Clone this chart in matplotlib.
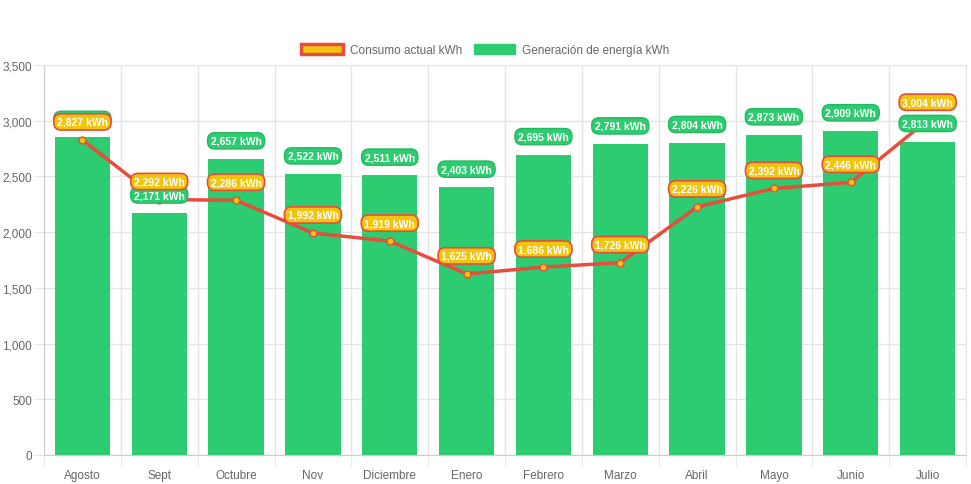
import matplotlib
matplotlib.use("Agg")
import matplotlib.pyplot as plt
from matplotlib.patches import Patch
import numpy as np

plt.rcParams['font.family'] = ['Liberation Sans', 'DejaVu Sans']

meses = ["Agosto", "Sept", "Octubre", "Nov", "Diciembre", "Enero", "Febrero",
         "Marzo", "Abril", "Mayo", "Junio", "Julio"]
consumo = [2827, 2292, 2286, 1992, 1919, 1625, 1686, 1726, 2226, 2392, 2446, 3004]
generacion = [2850, 2171, 2657, 2522, 2511, 2403, 2695, 2791, 2804, 2873, 2909, 2813]
yticks = [0, 500, 1000, 1500, 2000, 2500, 3000, 3500]

verde = "#2ecc71"
amarillo = "#f1c40f"
rojo = "#e74c3c"
gris = "#e5e5e5"
texto = "#666666"

fig = plt.figure(figsize=(9.71, 4.85), dpi=100)
ax = fig.add_axes([0.0453, 0.0598, 0.9496, 0.8042])

x = np.arange(len(meses))
ax.bar(x, generacion, width=0.72, color=verde, zorder=2)
ax.plot(x, consumo, color=rojo, lw=2.5, zorder=3,
        marker='o', markersize=5, markerfacecolor=amarillo,
        markeredgecolor=rojo, markeredgewidth=1)

ax.set_xlim(-0.5, len(meses) - 0.5)
ax.set_ylim(0, 3500)
ax.set_yticks(yticks)
ax.set_yticklabels([f"{v:,}" for v in yticks])
ax.set_xticks(x)
ax.set_xticklabels(meses)
ax.set_xticks(np.arange(len(meses) + 1) - 0.5, minor=True)

ax.tick_params(axis='x', which='major', length=0, pad=10, labelsize=8.5, labelcolor=texto)
ax.tick_params(axis='x', which='minor', length=8, color=gris)
ax.tick_params(axis='y', length=7, color=gris, pad=1.5, labelsize=8.5, labelcolor=texto)
ax.grid(axis='x', which='minor', color=gris, lw=1, zorder=0)
ax.grid(axis='y', which='major', color=gris, lw=1, zorder=0)
ax.set_axisbelow(True)
for s in ['top', 'right']:
    ax.spines[s].set_color(gris)
for s in ['left', 'bottom']:
    ax.spines[s].set_color("#cccccc")

# etiquetas de las barras
for xi, v in zip(x, generacion):
    ax.annotate(f"{v:,} kWh", (xi, v), xytext=(0, 13), textcoords='offset points',
                ha='center', va='center', fontsize=7.5, fontweight='bold', color='white',
                bbox=dict(boxstyle="round,pad=0.3,rounding_size=0.7", fc=verde,
                          ec="#27b862", lw=1), zorder=5)

# etiquetas de la linea
for xi, v in zip(x, consumo):
    ax.annotate(f"{v:,} kWh", (xi, v), xytext=(0, 13), textcoords='offset points',
                ha='center', va='center', fontsize=7.5, fontweight='bold', color='white',
                bbox=dict(boxstyle="round,pad=0.3,rounding_size=0.7", fc=amarillo,
                          ec=rojo, lw=1.2), zorder=6)

handles = [Patch(facecolor=amarillo, edgecolor=rojo, lw=2.5, label="Consumo actual kWh"),
           Patch(facecolor=verde, edgecolor=verde, label="Generación de energía kWh")]
leg = fig.legend(handles=handles, loc='center', bbox_to_anchor=(0.5, 0.895), ncol=2,
                 frameon=False, fontsize=8.5, handlelength=3.5, handleheight=1.0,
                 columnspacing=1.0, handletextpad=0.6)
for t in leg.get_texts():
    t.set_color(texto)

fig.savefig("out.png", dpi=100)
